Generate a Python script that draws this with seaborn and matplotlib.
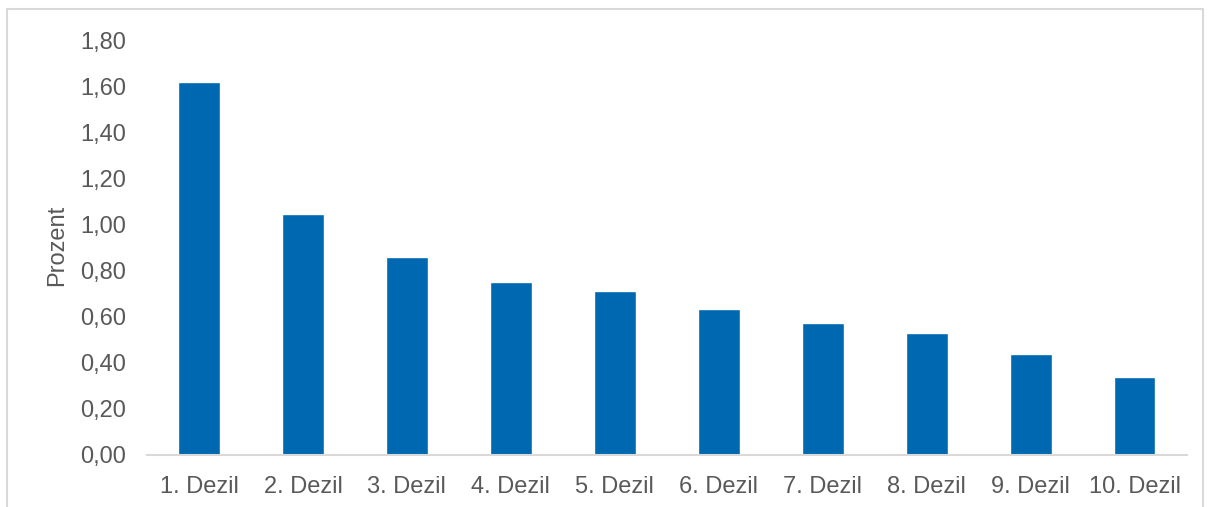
import matplotlib.pyplot as plt
import matplotlib.patches as mpatches
from matplotlib.ticker import FuncFormatter
import seaborn as sns
import pandas as pd

dezile = ["1. Dezil", "2. Dezil", "3. Dezil", "4. Dezil", "5. Dezil",
          "6. Dezil", "7. Dezil", "8. Dezil", "9. Dezil", "10. Dezil"]
prozent = [1.62, 1.045, 0.86, 0.75, 0.71, 0.633, 0.572, 0.527, 0.437, 0.338]
yticks = [0.0, 0.2, 0.4, 0.6, 0.8, 1.0, 1.2, 1.4, 1.6, 1.8]

df = pd.DataFrame({"dezil": dezile, "prozent": prozent})

sns.set_style("white")
plt.rcParams["font.family"] = ["Liberation Sans", "DejaVu Sans"]

fig = plt.figure(figsize=(12.12, 5.07), dpi=100)
ax = fig.add_axes([0.1213, 0.1026, 0.8578, 0.8185])

sns.barplot(data=df, x="dezil", y="prozent", color="#0068B0", saturation=1,
            width=0.4, ax=ax)

ax.set_ylim(0, 1.8)
ax.set_yticks(yticks)
ax.yaxis.set_major_formatter(FuncFormatter(lambda v, p: f"{v:.2f}".replace(".", ",")))
ax.tick_params(axis="both", length=0, labelsize=17, colors="#595959")
ax.tick_params(axis="y", pad=15)
ax.tick_params(axis="x", pad=15)

ax.set_xlabel("")
ax.set_ylabel("Prozent", fontsize=17, color="#595959")
ax.yaxis.set_label_coords(-0.076, 0.505)

for s in ["top", "right", "left"]:
    ax.spines[s].set_visible(False)
ax.spines["bottom"].set_color("#D9D9D9")
ax.spines["bottom"].set_linewidth(1.5)

# chart border
fig.patches.append(mpatches.Rectangle((7 / 1212, -0.01), 1196 / 1212, 1 - 9 / 507 + 0.01,
                                      transform=fig.transFigure, fill=False,
                                      edgecolor="#D9D9D9", linewidth=1.5))

fig.savefig("out.png", dpi=100)
